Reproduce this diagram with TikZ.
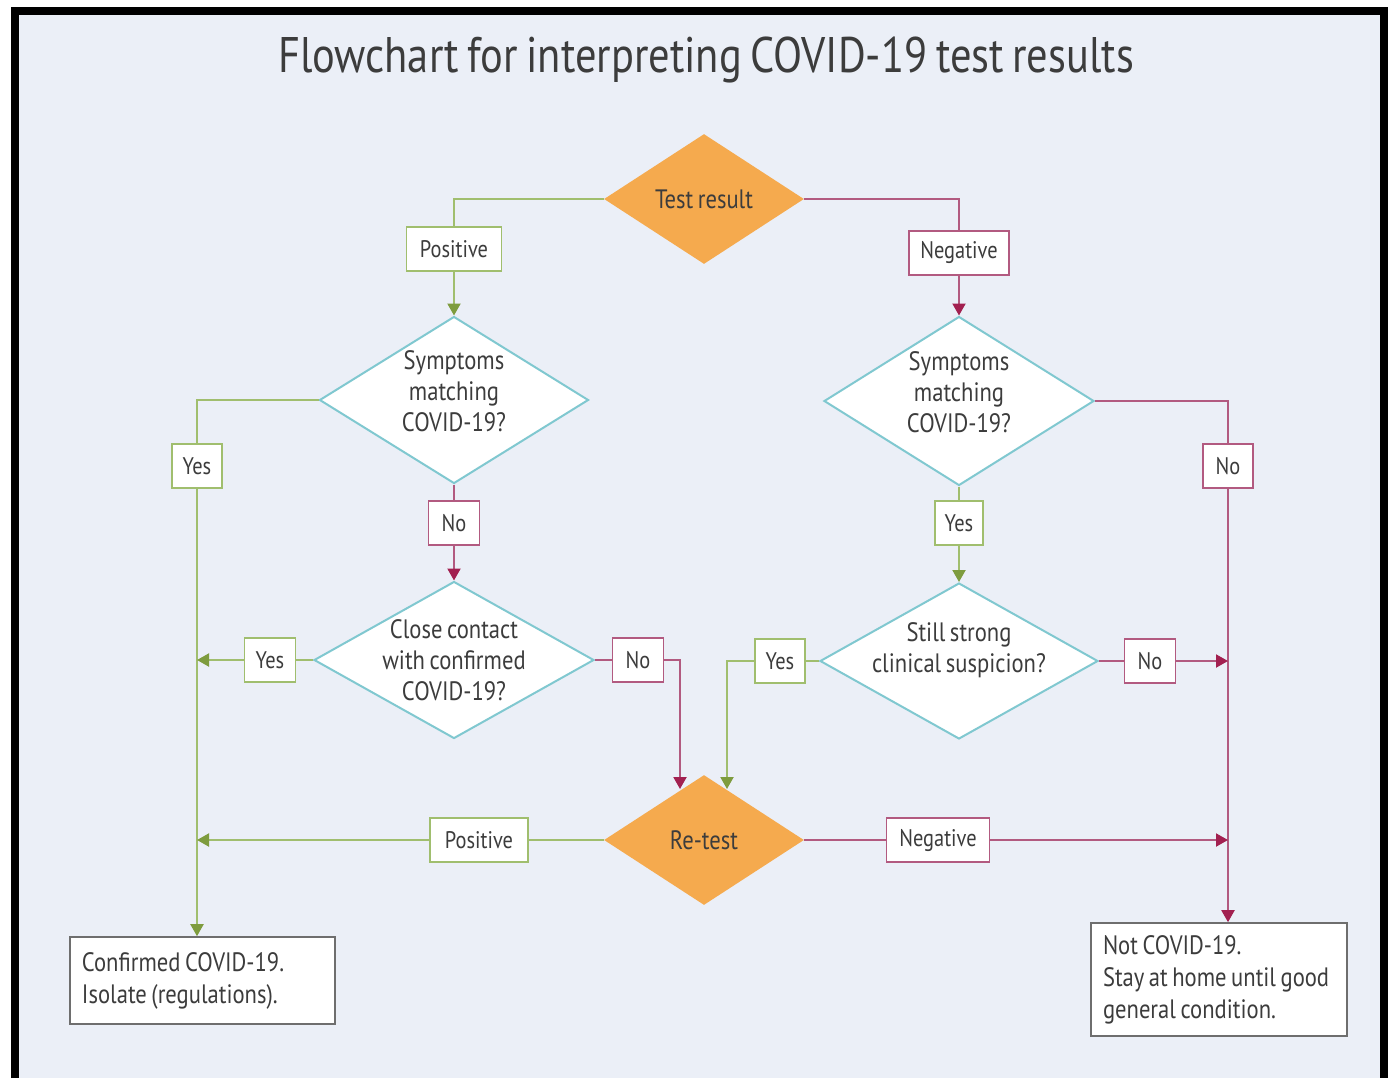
\documentclass[tikz,border=0pt]{standalone}
\usepackage{fontspec}
\setmainfont{PT Sans}[FakeStretch=0.85,WordSpace=0.75]
\usetikzlibrary{shapes.geometric,arrows.meta}
\definecolor{bgblue}{RGB}{235,239,247}
\definecolor{testorange}{RGB}{245,170,78}
\definecolor{tealline}{RGB}{128,200,208}
\definecolor{greenline}{RGB}{160,190,110}
\definecolor{greentip}{RGB}{126,156,62}
\definecolor{redline}{RGB}{178,90,128}
\definecolor{redtip}{RGB}{162,32,80}
\definecolor{textgray}{RGB}{60,60,60}
\definecolor{boxgray}{RGB}{110,110,110}
\tikzset{
  every node/.style={text=textgray, font=\fontsize{12}{15.5}\selectfont},
  orangedia/.style={diamond, fill=testorange, inner sep=-20pt,
    minimum width=100pt, minimum height=65pt, font=\fontsize{13.3}{15}\selectfont},
  tealdia/.style={diamond, draw=tealline, line width=1pt, fill=white,
    inner sep=-20pt, align=center, font=\fontsize{13.3}{15.5}\selectfont},
  gbox/.style={draw=greenline, line width=0.7pt, fill=white, inner sep=0pt,
    minimum height=22pt},
  rbox/.style={draw=redline, line width=0.7pt, fill=white, inner sep=0pt,
    minimum height=22pt},
  resultbox/.style={draw=boxgray, line width=0.8pt, fill=white, align=flush left,
    inner xsep=6pt, inner ysep=0pt, font=\fontsize{13.3}{16}\selectfont},
  gline/.style={draw=greenline, line width=1pt},
  rline/.style={draw=redline, line width=1pt},
  garrow/.style={gline, -{Triangle[width=6.5pt,length=6pt,color=greentip]}},
  rarrow/.style={rline, -{Triangle[width=6.5pt,length=6pt,color=redtip]}}
}
\begin{document}
\begin{tikzpicture}[x=0.5pt,y=-0.5pt]
\useasboundingbox (0,0) rectangle (1394,1078);
\fill[white] (0,0) rectangle (1394,1078);
\fill[bgblue] (14.5,11) rectangle (1383.5,1078);
\draw[line width=4pt] (14.5,1078) -- (14.5,11) -- (1383.5,11) -- (1383.5,1078);

\node (title) at (706,60) {\fontsize{25}{30}\selectfont Flowchart for interpreting COVID-19 test results};

\node[orangedia] (test) at (704,199) {Test result};
\node[tealdia, minimum width=134.5pt, minimum height=83.5pt, text depth=9pt] (symL) at (454,400) {Symptoms\\matching\\COVID-19?};
\node[tealdia, minimum width=135pt, minimum height=84.5pt, text depth=9pt] (symR) at (959,401) {Symptoms\\matching\\COVID-19?};
\node[tealdia, minimum width=140pt, minimum height=78.5pt] (contact) at (454,660) {Close contact\\with confirmed\\COVID-19?};
\node[tealdia, minimum width=139pt, minimum height=78pt, text depth=13pt] (still) at (959,661) {Still strong\\clinical suspicion?};
\node[orangedia] (retest) at (704,840) {Re-test};

\node[resultbox, minimum width=132.5pt, minimum height=43.5pt, text width=120.5pt] (confirmed) at (202.5,980.5) {Confirmed COVID-19.\\Isolate (regulations).};
\node[resultbox, minimum width=128pt, minimum height=56.5pt, text width=116pt] (notcovid) at (1219,979.5) {Not COVID-19.\\Stay at home until good\\general condition.};

\node[gbox, minimum width=47.5pt] (posA) at (454,249) {Positive};
\node[rbox, minimum width=50pt] (negA) at (959,253) {Negative};
\node[gbox, minimum width=25pt] (yesA) at (197,466) {Yes};
\node[rbox, minimum width=25.5pt] (noA) at (454,523) {No};
\node[rbox, minimum width=25pt] (noB) at (1228,466) {No};
\node[gbox, minimum width=24pt] (yesB) at (959,523) {Yes};
\node[gbox, minimum width=25.5pt] (yesC) at (270,660) {Yes};
\node[rbox, minimum width=25.5pt] (noC) at (638,660) {No};
\node[gbox, minimum width=25pt] (yesD) at (780,661) {Yes};
\node[rbox, minimum width=25.5pt] (noD) at (1150,661) {No};
\node[gbox, minimum width=49pt] (posB) at (479,840) {Positive};
\node[rbox, minimum width=51.5pt] (negB) at (938,840) {Negative};

\coordinate (rtA) at (680,789);
\coordinate (rtB) at (727,789);

\draw[gline] (test.west) -| (posA.north);
\draw[garrow] (posA.south) -- (symL.north);
\draw[rline] (test.east) -| (negA.north);
\draw[rarrow] (negA.south) -- (symR.north);
\draw[gline] (symL.west) -| (yesA.north);
\draw[garrow] (yesA.south) -- (yesA.south |- confirmed.north);
\draw[rline] (symL.south) -- (noA.north);
\draw[rarrow] (noA.south) -- (contact.north);
\draw[gline] (contact.west) -- (yesC.east);
\draw[garrow] (yesC.west) -- (yesC.west -| yesA.south);
\draw[rline] (contact.east) -- (noC.west);
\draw[rarrow] (noC.east) -| (rtA);
\draw[rline] (symR.east) -| (noB.north);
\draw[rarrow] (noB.south) -- (noB.south |- notcovid.north);
\draw[gline] (symR.south) -- (yesB.north);
\draw[garrow] (yesB.south) -- (still.north);
\draw[gline] (still.west) -- (yesD.east);
\draw[garrow] (yesD.west) -| (rtB);
\draw[rline] (still.east) -- (noD.west);
\draw[rarrow] (noD.east) -- (noD.east -| noB.south);
\draw[gline] (retest.west) -- (posB.east);
\draw[garrow] (posB.west) -- (posB.west -| yesA.south);
\draw[rline] (retest.east) -- (negB.west);
\draw[rarrow] (negB.east) -- (negB.east -| noB.south);
\end{tikzpicture}
\end{document}
